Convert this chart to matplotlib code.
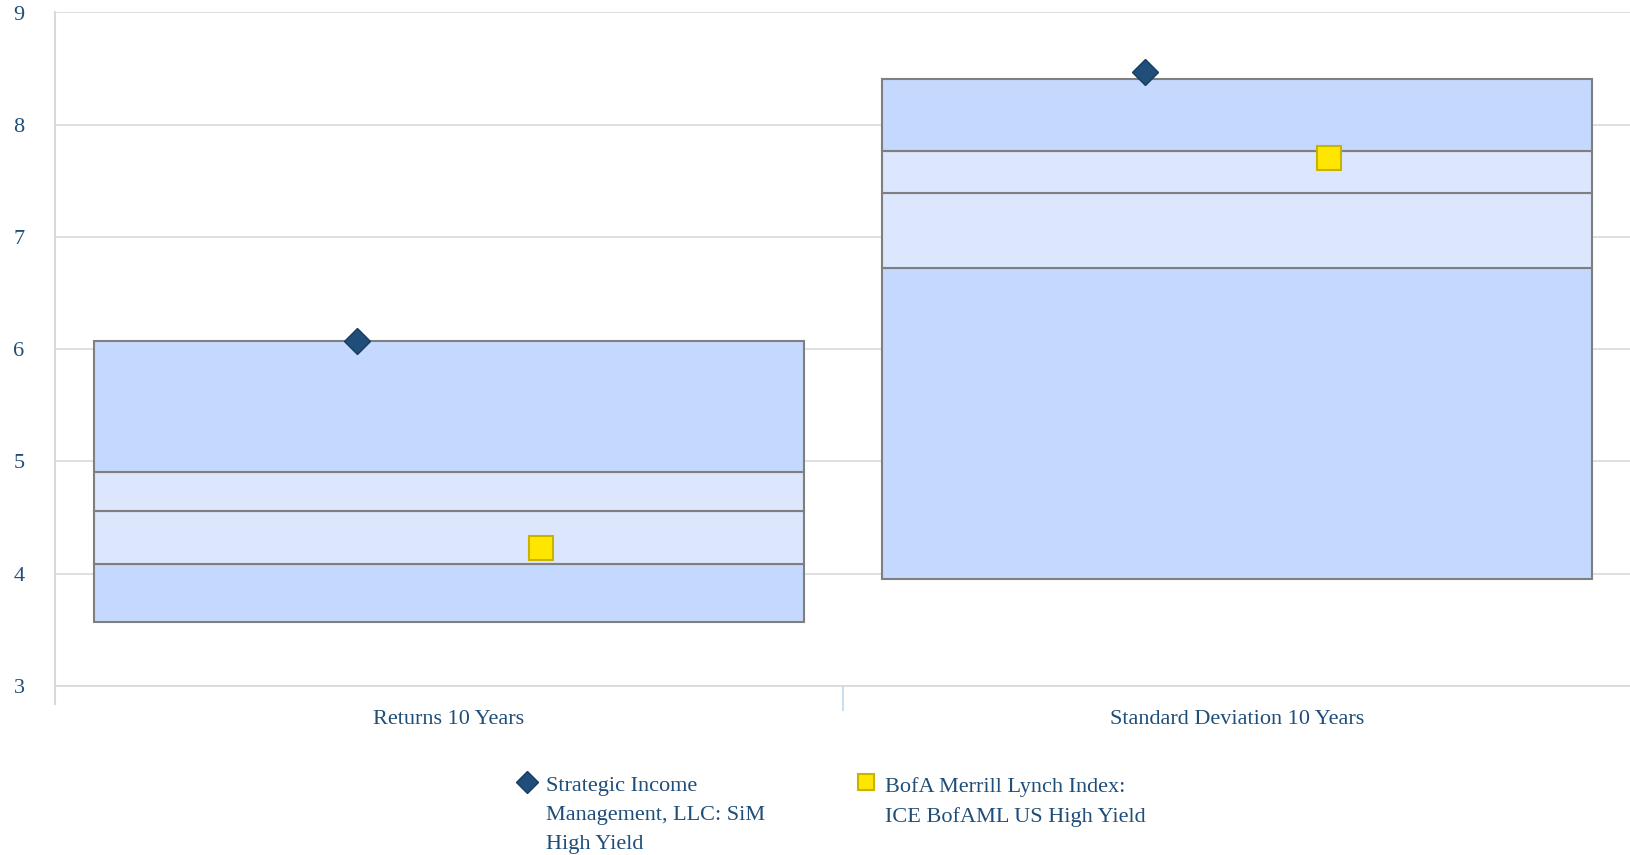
import matplotlib
matplotlib.use("Agg")
import numpy as np
from matplotlib import pyplot as plt

# categories and percentile bands (5th, 25th, median, 75th, 95th)
categories = ["Returns 10 Years", "Standard Deviation 10 Years"]
p05 = [3.57, 3.95]
p25 = [4.09, 6.72]
p50 = [4.56, 7.39]
p75 = [4.91, 7.77]
p95 = [6.07, 8.41]

# series values
sim_values = [6.07, 8.47]
index_values = [4.23, 7.70]
series_names = ["Strategic Income\nManagement, LLC: SiM\nHigh Yield",
                "BofA Merrill Lynch Index:\nICE BofAML US High Yield"]
y_ticks = [3, 4, 5, 6, 7, 8, 9]

text_color = "#1F4E79"
dark_fill = "#C5D8FD"
light_fill = "#DCE6FC"
edge = "#7F7F7F"

plt.rcParams["font.family"] = ["Liberation Serif", "DejaVu Serif"]

fig = plt.figure(figsize=(16.31, 8.55), dpi=100)
ax = fig.add_axes([55 / 1631, 1 - 686 / 855, 1 - 55 / 1631, (686 - 12.5) / 855])

x = np.arange(len(categories))
w = 0.9
bands = [(p05, p25, dark_fill), (p25, p50, light_fill),
         (p50, p75, light_fill), (p75, p95, dark_fill)]
for b0, b1, col in bands:
    ax.bar(x, np.array(b1) - np.array(b0), bottom=b0, width=w, color=col,
           edgecolor=edge, linewidth=1.5, zorder=2)

ax.plot(x - 0.117, sim_values, linestyle="none", marker="D", markersize=13,
        markerfacecolor=text_color, markeredgecolor="#173D60", markeredgewidth=1, zorder=4)
ax.plot(x + 0.117, index_values, linestyle="none", marker="s", markersize=17,
        markerfacecolor="#FFE600", markeredgecolor="#C8B400", markeredgewidth=1.5, zorder=4)

ax.set_xlim(-0.5, len(categories) - 0.5)
ax.set_ylim(3, 9)
ax.set_yticks(y_ticks)
ax.yaxis.grid(True, color="#D9D9D9", linewidth=1.2, zorder=0)
ax.set_axisbelow(True)
for s in ["top", "right"]:
    ax.spines[s].set_visible(False)
ax.spines["left"].set_color("#D9D9D9")
ax.spines["left"].set_linewidth(1.5)
ax.spines["left"].set_bounds(2.84, 9)
ax.spines["bottom"].set_color("#D9D9D9")
ax.spines["bottom"].set_linewidth(1.2)

ax.tick_params(axis="y", length=0, pad=22, labelsize=16, labelcolor=text_color)
ax.set_xticks(x)
ax.set_xticklabels(categories)
ax.tick_params(axis="x", length=0, pad=17, labelsize=16, labelcolor=text_color)
ax.set_xticks([0.5], minor=True)
ax.tick_params(axis="x", which="minor", length=18, width=1.2, color="#BDD7EE")

# legend drawn by hand so the marker sits by the first line
ax.plot([527 / 1631], [1 - 782 / 855], transform=fig.transFigure, clip_on=False,
        marker="D", markersize=11, markerfacecolor=text_color, markeredgecolor="#173D60",
        linestyle="none")
ax.plot([866 / 1631], [1 - 782 / 855], transform=fig.transFigure, clip_on=False,
        marker="s", markersize=12, markerfacecolor="#FFE600", markeredgecolor="#C8B400",
        markeredgewidth=1.5, linestyle="none")
fig.text(546 / 1631, 1 - 777 / 855, series_names[0], fontsize=16, color=text_color,
         va="top", ha="left", linespacing=1.7)
fig.text(885 / 1631, 1 - 777 / 855, series_names[1], fontsize=16, color=text_color,
         va="top", ha="left", linespacing=1.7)

fig.savefig("out.png", dpi=100)
